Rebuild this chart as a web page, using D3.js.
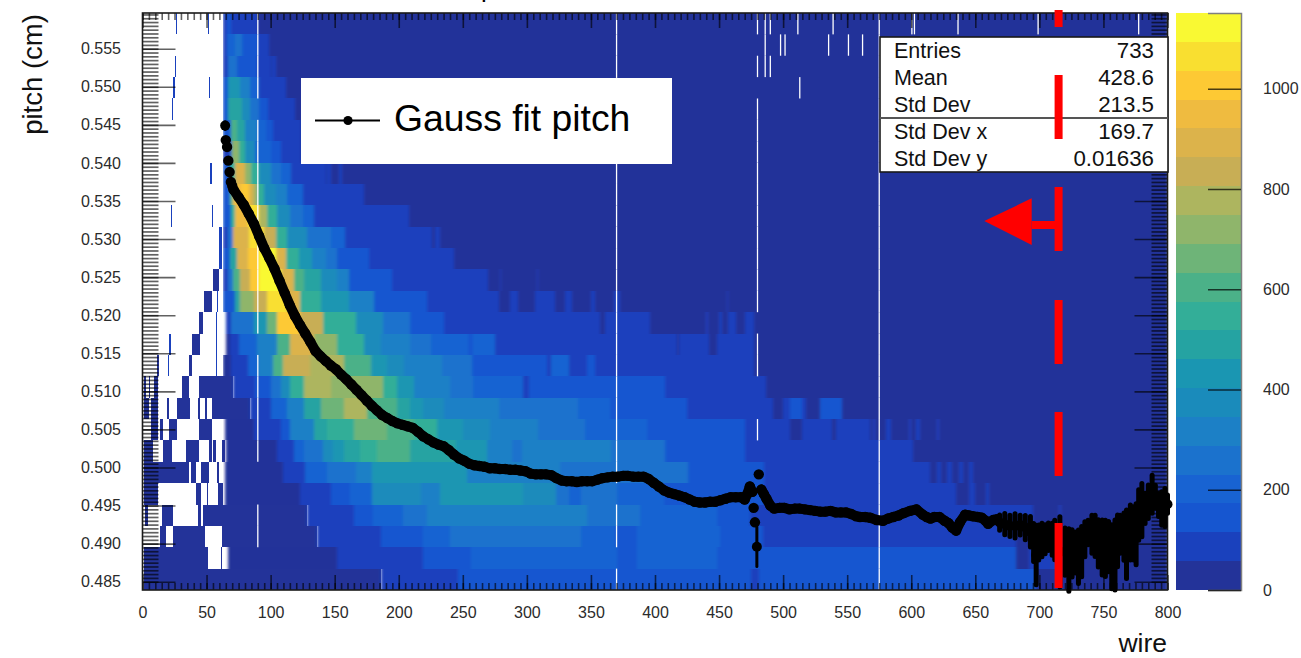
<!DOCTYPE html>
<html>
<head>
<meta charset="utf-8">
<script src="https://d3js.org/d3.v7.min.js"></script>
<style>
html,body{margin:0;padding:0;background:#fff;}
svg{display:block;font-family:"Liberation Sans",Arial,sans-serif;}
</style>
</head>
<body>
<svg id="chart" width="1301" height="658"></svg>
<script>
// 2d histogram rows, top row first: [wire where the run starts, count], null = empty bin
const row00=[[26,90],[27,null],[51,90],[52,null],[63,90],[66,140],[69,90],[90,30]];
const row01=[[63,90],[66,200],[72,260],[78,140],[90,90],[99,30]];
const row02=[[25,90],[26,null],[63,90],[67,260],[74,140],[89,90],[100,30],[101,90],[104,30]];
const row03=[[24,90],[25,null],[52,90],[53,null],[63,140],[67,430],[76,320],[84,200],[91,90],[112,30]];
const row04=[[23,90],[24,null],[63,140],[67,490],[78,370],[84,260],[91,140],[98,90],[119,30]];
const row05=[[63,140],[69,600],[74,490],[80,320],[89,200],[96,140],[102,90],[124,30]];
const row06=[[63,90],[69,370],[70,720],[75,550],[80,370],[88,200],[100,140],[108,90],[124,30]];
const row07=[[53,90],[54,null],[63,140],[68,550],[72,890],[80,720],[85,550],[91,370],[100,260],[108,200],[116,90],[143,30],[144,90],[147,30],[153,90],[156,30]];
const row08=[[63,140],[68,600],[71,950],[77,1010],[83,890],[86,780],[89,550],[95,370],[104,320],[113,200],[125,90],[173,30]];
const row09=[[22,90],[23,null],[54,90],[55,null],[63,140],[69,550],[72,950],[82,1060],[91,780],[97,550],[105,370],[115,260],[125,200],[134,90],[208,30]];
const row10=[[60,90],[62,null],[63,90],[67,260],[71,890],[83,1060],[95,830],[104,550],[113,370],[128,260],[147,200],[158,90],[226,30],[228,90],[232,30]];
const row11=[[60,90],[62,null],[63,140],[68,490],[74,890],[82,1010],[91,1120],[104,890],[112,550],[122,430],[132,320],[143,260],[152,140],[177,90],[243,30]];
const row12=[[55,30],[60,null],[63,90],[67,260],[71,600],[76,830],[84,1010],[91,1120],[108,890],[118,600],[126,490],[139,370],[152,320],[161,140],[195,90],[270,30],[279,90],[280,30],[308,90],[309,30]];
const row13=[[48,30],[54,null],[58,90],[59,null],[63,140],[72,490],[76,720],[87,830],[97,1060],[113,890],[123,550],[139,430],[161,320],[181,140],[222,90],[278,30],[287,90],[293,30],[306,90],[322,30],[330,90],[335,30],[350,90],[353,30],[368,90],[373,30],[456,90],[457,30]];
const row14=[[44,30],[47,null],[57,90],[58,null],[65,90],[69,260],[87,430],[97,660],[105,1010],[123,830],[141,550],[167,370],[188,260],[209,140],[235,90],[357,30],[361,90],[396,30],[440,90],[441,30],[450,90],[452,30],[457,90],[463,30],[470,90],[477,30]];
const row15=[[21,90],[22,null],[39,30],[45,null],[57,90],[58,null],[65,30],[68,90],[75,200],[89,320],[105,600],[115,890],[134,720],[152,550],[173,370],[186,320],[209,260],[225,200],[254,140],[258,200],[275,90],[417,30],[419,90],[442,30],[448,90],[477,30]];
const row16=[[11,30],[13,null],[20,90],[21,null],[36,30],[39,null],[57,90],[58,null],[63,30],[69,90],[82,200],[90,320],[102,600],[110,830],[131,780],[157,600],[178,430],[191,370],[204,320],[234,260],[257,140],[316,90],[319,200],[333,90],[347,140],[353,90],[477,30]];
const row17=[[1,30],[3,null],[5,30],[6,null],[9,30],[12,null],[31,30],[36,null],[44,30],[71,90],[88,140],[100,260],[108,370],[115,550],[126,780],[147,720],[188,550],[199,430],[212,320],[240,260],[258,200],[297,90],[302,140],[408,90],[487,30]];
const row18=[[1,30],[5,null],[7,30],[12,null],[19,30],[21,null],[27,30],[37,null],[43,30],[45,null],[49,30],[50,null],[54,30],[84,90],[100,200],[113,320],[126,490],[139,660],[157,780],[175,600],[199,490],[209,430],[219,370],[235,320],[278,260],[340,200],[365,140],[425,90],[492,30],[500,90],[505,140],[515,90],[518,30],[529,140],[546,30]];
const row19=[[7,30],[12,null],[14,30],[16,null],[21,30],[27,null],[44,30],[54,null],[64,30],[87,90],[108,140],[115,320],[134,490],[144,550],[165,660],[191,600],[212,550],[230,430],[250,370],[271,320],[309,260],[345,200],[394,140],[470,90],[505,30],[515,90],[538,30],[541,90],[568,30],[570,90],[572,30],[580,90],[584,30],[598,90],[600,30],[604,90],[607,30],[620,90],[622,30]];
const row20=[[1,30],[8,null],[16,30],[23,null],[34,30],[44,null],[52,30],[54,null],[55,30],[57,null],[62,30],[64,null],[65,30],[105,90],[118,200],[126,260],[141,370],[149,430],[157,490],[170,550],[183,600],[209,490],[245,430],[269,320],[288,260],[296,320],[366,260],[408,140],[470,90],[601,30]];
const row21=[[1,30],[36,null],[38,30],[42,null],[46,30],[52,null],[58,30],[60,null],[64,30],[110,90],[127,200],[144,260],[167,320],[179,430],[253,320],[326,260],[426,140],[485,90],[615,30],[620,90],[623,30],[628,90],[632,30],[637,90],[640,30],[645,90],[648,30]];
const row22=[[1,30],[12,null],[42,30],[46,null],[50,30],[51,null],[59,30],[63,null],[64,30],[123,90],[147,140],[162,200],[179,370],[217,320],[232,430],[297,370],[323,260],[333,200],[342,260],[370,200],[407,140],[485,90],[635,30],[645,90],[650,30],[658,90],[661,30]];
const row23=[[2,30],[4,null],[15,30],[24,null],[43,30],[46,null],[47,30],[128,90],[165,140],[180,200],[203,260],[222,320],[347,260],[388,200],[448,140],[474,90],[695,30],[715,90],[717,30]];
const row24=[[14,30],[18,null],[24,30],[49,null],[62,30],[136,90],[186,140],[219,200],[240,260],[342,200],[369,140],[386,200],[451,140],[484,90],[682,30]];
const row25=[[1,30],[51,null],[61,30],[62,null],[67,30],[152,90],[219,140],[256,200],[370,140],[386,200],[448,140],[682,30],[692,90],[715,30]];
const row26=[[1,30],[186,90],[246,140],[475,90],[481,140],[697,30]];
const heatRows=[row00,row01,row02,row03,row04,row05,row06,row07,row08,row09,row10,row11,row12,row13,row14,row15,row16,row17,row18,row19,row20,row21,row22,row23,row24,row25,row26];

// dead wires (single empty bins) and the rows where they are empty, top row = 0
const emptyWires=[90,370,480,575,486,490,498,501.5,511.5,513,535.5,539,551,562,600.5,602.5,636.5,699,777.5];
const emptyRows=[
 [0,1,2,3,5,6,7,8,9,10,11,12,13,14,16,17,18,19,20,23,24],
 [0,1,2,3,4,5,6,7,8,9,10,11,12,13,14,15,16,17,18,19,20,21,23,24,26],
 [0,2,4,5,6,7,8,9,10,11,12,13,15,16,19],
 [0,1,2,3,4,5,6,7,8,9,10,11,12,13,14,15,16,17,18,19,20,21,22,23,24,25,26],
 [0,1,2],[0,2],[1],[1],[0],[3],[1],[0],[1],[1],[0],[0],[0],[0],[0]];

// gauss fit, smooth part of the curve
const fitWire=[65,66,67,68,69,70,71,75,79,83,87,91,95,99,103,107,111,115,119,123,127,131,135,139,143,147,151,155,159,163,167,171,175,179,183,187,191,195,199,203,207,211,215,219,223,227,231,235,239,243,247,251,255,259,263,267,271,275,279,283,287,291,295,299,303,307,311,315,319,323,327,331,335,339,343,347,351,355,359,363,367,371,375,379,383,387,391,395,399,403,407,411,415,419,423,427,431,435,439,443,447,451,455,459,463,467,470,472,474,476,477,478,481,483,485,487,490,493,497,501,505,509,513,517,521,525,529,533,537,541,545,549,553,557,560,564,568,573,578,582,586,590,594,599,604,609,612,615,618,622,626,629,632,635,638,642,645,648,652,655,658,660,664,667];
const fitVal=[.5430,.5421,.5403,.5388,.5375,.5370,.5365,.5355,.5345,.5333,.5320,.5304,.5288,.5275,.5261,.5245,.5229,.5213,.5199,.5187,.5176,.5165,.5153,.5146,.5140,.5134,.5129,.5122,.5116,.5109,.5102,.5095,.5088,.5081,.5075,.5069,.5065,.5061,.5058,.5056,.5054,.5052,.5047,.5041,.5037,.5033,.5030,.5028,.5023,.5017,.5012,.5009,.5005,.5003,.5002,.5001,.4999,.4999,.4998,.4998,.4997,.4997,.4996,.4995,.4992,.4991,.4991,.4991,.4990,.4986,.4983,.4982,.4982,.4981,.4982,.4982,.4982,.4984,.4986,.4987,.4988,.4988,.4989,.4989,.4988,.4988,.4988,.4985,.4980,.4975,.4970,.4967,.4965,.4963,.4961,.4958,.4955,.4954,.4954,.4955,.4955,.4957,.4959,.4961,.4961,.4961,.4958,.4965,.4975,.4968,.4947,.4928,.4991,.4971,.4965,.4959,.4950,.4946,.4947,.4947,.4945,.4946,.4946,.4945,.4944,.4943,.4942,.4942,.4943,.4941,.4941,.4941,.4939,.4936,.4935,.4935,.4934,.4931,.4930,.4933,.4935,.4937,.4940,.4943,.4945,.4938,.4935,.4933,.4935,.4935,.4930,.4927,.4921,.4917,.4928,.4938,.4937,.4936,.4935,.4934,.4930,.4926,.4931,.4932];
// wires of the fit that stand apart from the joined curve
const looseWires=[65,66,67,68,69,70,477,478,481];

// points with a visible error bar, mostly the noisy end
const barWire=[64.5,479.5,669,673,677,681,685,689,693,695.5,697.5,699.5,702,704.5,707,710,712,716,720,723,725.5,728,730.5,733,735.5,738,741,743.5,746,749,751.5,754,756.5,759,761,763,766,768,771,773.5,775.5,777.5,780,782.5,785,788,790.5,793,795.5,798,800];
const barVal=[.5449,.4896,.49277,.49255,.49233,.49233,.49244,.49211,.49157,.49014,.48850,.49014,.49047,.49058,.49091,.49058,.49047,.48894,.48894,.48785,.48872,.48883,.48828,.48894,.49058,.49146,.49124,.49102,.49003,.48949,.48938,.48960,.48828,.48850,.49036,.49124,.49091,.48992,.49146,.49135,.49124,.49376,.49441,.49463,.49551,.49649,.49616,.49507,.49463,.49474,.49518];
const barErr=[.0005,.0026,.0010,.0014,.0014,.0016,.0013,.0016,.0020,.0025,.0039,.0023,.0022,.0019,.0018,.0021,.0026,.0046,.0031,.0041,.0031,.0027,.0035,.0033,.0023,.0016,.0025,.0027,.0031,.0036,.0037,.0033,.0042,.0046,.0034,.0025,.0031,.0045,.0036,.0035,.0040,.0033,.0035,.0020,.0022,.0025,.0015,.0015,.0022,.0025,.0012];

// tick labels
const wireTicks=[0,50,100,150,200,250,300,350,400,450,500,550,600,650,700,750,800];
const pitchTicks=[.485,.490,.495,.500,.505,.510,.515,.520,.525,.530,.535,.540,.545,.550,.555];
const countTicks=[0,200,400,600,800,1000];

// stat box
const statNames=["Entries","Mean","Std Dev","Std Dev x","Std Dev y"];
const statValues=["733","428.6","213.5","169.7","0.01636"];

// palette of the colour bar, lowest band first
const bandColors=["#233399","#1a41bd","#1656d0","#1863d2","#1b72cd","#1c80c6","#1a8bbb","#1a96b2","#25a3a2","#33ae98","#4bb188","#6eb478","#8fb56b","#adb55f","#c8ae55","#dcb34b","#efbb40","#fdc934","#f9df30","#f9f933"];

// cut position, wire and pitch of the arrow
const cutWire=715;
const arrowTipWire=657, arrowBaseWire=694;
const arrowPitch=.53185, arrowTipPitch=.53237, arrowBaseHi=.53535, arrowBaseLo=.52922;

const wireMax=800, pitchMin=.48391, pitchMax=.55969, countMax=1151, nRows=27;

const svg=d3.select("#chart");
const x=d3.scaleLinear().domain([0,wireMax]).range([142.5,1167.5]);
const y=d3.scaleLinear().domain([pitchMin,pitchMax]).range([590,13]);
const z=d3.scaleLinear().domain([0,countMax]).range([590,13]);
const color=d3.scaleQuantize().domain([0,countMax]).range(bandColors);
const rowPitch=(pitchMax-pitchMin)/nRows;

// the screenshot is soft along the wire direction in the filled part
svg.append("defs").append("filter").attr("id","soft")
  .attr("x",0).attr("y",0).attr("width",1).attr("height",1)
  .append("feGaussianBlur").attr("stdDeviation","1.5 0.4");

// heat map
const cells=[];
heatRows.forEach(function(row,i){
  row.forEach(function(seg,j){
    if(seg[1]===null) return;
    cells.push({row:i,from:seg[0],to:j<row.length-1?row[j+1][0]:wireMax,n:seg[1]});
  });
});
function drawCells(g,data){
  g.selectAll("rect").data(data).join("rect")
    .attr("shape-rendering","crispEdges")
    .attr("x",d=>x(d.from))
    .attr("width",d=>x(d.to)-x(d.from))
    .attr("y",d=>y(pitchMax-d.row*rowPitch))
    .attr("height",d=>y(pitchMax-(d.row+1)*rowPitch)-y(pitchMax-d.row*rowPitch))
    .attr("fill",d=>color(d.n));
}
svg.append("g").call(drawCells,cells.filter(d=>d.from<63));
svg.append("g").attr("filter","url(#soft)").call(drawCells,cells.filter(d=>d.from>=63));

const holes=[];
emptyWires.forEach(function(w,k){emptyRows[k].forEach(function(r){holes.push({w:w,row:r});});});
svg.append("g")
  .selectAll("rect").data(holes).join("rect")
  .attr("x",d=>x(d.w-.5))
  .attr("width",d=>x(d.w+.5)-x(d.w-.5))
  .attr("y",d=>y(pitchMax-d.row*rowPitch))
  .attr("height",d=>y(pitchMax-(d.row+1)*rowPitch)-y(pitchMax-d.row*rowPitch))
  .attr("fill","#fff");

// axes: root style ticks on all 4 sides
const minorWire=d3.range(0,wireMax+1,5);
const minorPitch=d3.range(970,1120).map(d=>d*.0005).filter(d=>d>=pitchMin&&d<=pitchMax);
function styleAxis(g,labels,w){
  g.select(".domain").remove();
  g.selectAll(".tick line").attr("stroke","#000").attr("stroke-opacity",.62).attr("stroke-width",w);
  if(labels) g.selectAll(".tick text").attr("fill","#2b2b2b").attr("font-size",16).attr("font-family","Liberation Sans");
  else g.selectAll(".tick text").remove();
}
function addAxis(axis,tr,labels,w){
  svg.append("g").attr("transform",tr).call(axis).call(g=>styleAxis(g,labels,w));
}
const tr={b:"translate(0,590)",t:"translate(0,13)",l:"translate(142.5,0)",r:"translate(1167.5,0)"};
addAxis(d3.axisBottom(x).tickValues(minorWire).tickSize(-7).tickFormat(""),tr.b,false,1.6);
addAxis(d3.axisTop(x).tickValues(minorWire).tickSize(-7).tickFormat(""),tr.t,false,1.6);
addAxis(d3.axisLeft(y).tickValues(minorPitch).tickSize(-16).tickFormat(""),tr.l,false,1.7);
addAxis(d3.axisRight(y).tickValues(minorPitch).tickSize(-16).tickFormat(""),tr.r,false,1.7);
addAxis(d3.axisBottom(x).tickValues(wireTicks).tickSize(-15).tickPadding(17).tickFormat(d3.format("d")),tr.b,true,1.6);
addAxis(d3.axisTop(x).tickValues(wireTicks).tickSize(-15).tickFormat(""),tr.t,false,1.6);
addAxis(d3.axisLeft(y).tickValues(pitchTicks).tickSize(-33).tickPadding(21.5).tickFormat(d3.format(".3f")),tr.l,true,1.6);
addAxis(d3.axisRight(y).tickValues(pitchTicks).tickSize(-33).tickFormat(""),tr.r,false,1.6);

// frame
svg.append("rect").attr("x",x(0)).attr("y",y(pitchMax))
  .attr("width",x(wireMax)-x(0)).attr("height",y(pitchMin)-y(pitchMax))
  .attr("fill","none").attr("stroke","#1a1a1a").attr("stroke-width",1.6);

// axis titles, the histogram title is cut off by the top of the page
svg.append("text").attr("x",481).attr("y",-3).attr("font-size",26).text("p");
svg.append("text").attr("transform","translate(41.5,74.5) rotate(-90)").attr("text-anchor","middle")
  .attr("font-size",27.5).attr("fill","#111").text("pitch (cm)");
svg.append("text").attr("x",1167).attr("y",652).attr("text-anchor","end")
  .attr("font-size",26.5).attr("fill","#111").text("wire");

// colour bar
const bandH=countMax/bandColors.length;
svg.append("g").attr("shape-rendering","crispEdges")
  .selectAll("rect").data(bandColors).join("rect")
  .attr("x",1176).attr("width",65)
  .attr("y",(d,i)=>z((i+1)*bandH))
  .attr("height",(d,i)=>z(i*bandH)-z((i+1)*bandH))
  .attr("fill",d=>d);
svg.append("g").attr("transform","translate(1241,0)")
  .call(d3.axisRight(z).tickValues(countTicks).tickSize(-33).tickPadding(22).tickFormat(d3.format("d")))
  .call(function(g){
    g.select(".domain").attr("stroke","#808080").attr("stroke-width",1.5);
    g.selectAll(".tick line").attr("stroke","#000").attr("stroke-opacity",.7).attr("stroke-width",1.5);
    g.selectAll(".tick text").attr("fill","#2b2b2b").attr("font-size",16).attr("font-family","Liberation Sans");
  });

// gauss fit: dense points read as a thick band, so join them too
const fitPts=fitWire.map((w,i)=>({w:w,v:fitVal[i]}));
svg.append("path").attr("fill","none").attr("stroke","#000").attr("stroke-width",10)
  .attr("stroke-linejoin","round").attr("stroke-linecap","round")
  .attr("d",d3.line().defined(d=>!looseWires.includes(d.w)).x(d=>x(d.w)).y(d=>y(d.v))(fitPts));
const bars=barWire.map((w,i)=>({w:w,v:barVal[i],e:barErr[i]}));
svg.append("g").selectAll("line").data(bars).join("line")
  .attr("x1",d=>x(d.w)).attr("x2",d=>x(d.w))
  .attr("y1",d=>y(d.v-d.e)).attr("y2",d=>y(d.v+d.e))
  .attr("stroke","#000").attr("stroke-width",d=>d.w>600?5:3).attr("stroke-linecap","round");
svg.append("g").selectAll("circle").data(bars).join("circle")
  .attr("cx",d=>x(d.w)).attr("cy",d=>y(d.v)).attr("r",5).attr("fill","#000");
svg.append("g").selectAll("circle").data(fitPts).join("circle")
  .attr("cx",d=>x(d.w)).attr("cy",d=>y(d.v)).attr("r",5.2).attr("fill","#000");

// legend
const leg=svg.append("g");
leg.append("rect").attr("x",301).attr("y",78).attr("width",371).attr("height",86).attr("fill","#fff");
leg.append("line").attr("x1",315).attr("x2",380).attr("y1",120.5).attr("y2",120.5).attr("stroke","#000").attr("stroke-width",2.2);
leg.append("circle").attr("cx",348).attr("cy",120.5).attr("r",4.6).attr("fill","#000");
leg.append("text").attr("x",394).attr("y",131).attr("font-size",37.3).attr("fill","#000").text("Gauss fit pitch");

// stat box
const stat=svg.append("g");
stat.append("rect").attr("x",880).attr("y",37).attr("width",288).attr("height",135)
  .attr("fill","#fff").attr("stroke","#1a1a1a").attr("stroke-width",1.6);
stat.append("line").attr("x1",880).attr("x2",1168).attr("y1",118).attr("y2",118).attr("stroke","#555").attr("stroke-width",2);
statNames.forEach(function(s,i){
  stat.append("text").attr("x",894).attr("y",58+27*i).attr("font-size",21.5).attr("fill","#111").text(s);
  stat.append("text").attr("x",1154).attr("y",58+27*i).attr("font-size",22.3).attr("fill","#111").attr("text-anchor","end").text(statValues[i]);
});

// red dashed cut line with arrow
const red="#ff0000";
svg.append("line").attr("x1",x(cutWire)).attr("x2",x(cutWire))
  .attr("y1",y(.56008)).attr("y2",y(.48418))
  .attr("stroke",red).attr("stroke-width",8)
  .attr("stroke-dasharray","17 48 64 48 64 49 64 48 64 47 65");
svg.append("line").attr("x1",x(cutWire)).attr("x2",x(arrowBaseWire))
  .attr("y1",y(arrowPitch)).attr("y2",y(arrowPitch))
  .attr("stroke",red).attr("stroke-width",8);
svg.append("polygon")
  .attr("points",[[x(arrowTipWire),y(arrowTipPitch)],[x(arrowBaseWire),y(arrowBaseHi)],[x(arrowBaseWire),y(arrowBaseLo)]].map(p=>p.join(",")).join(" "))
  .attr("fill",red);
</script>
</body>
</html>
